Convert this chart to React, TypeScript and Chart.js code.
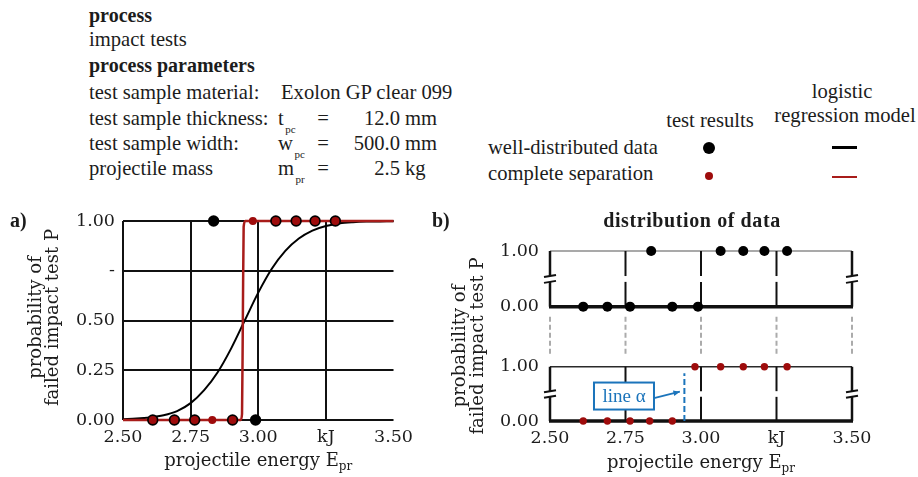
import React, { useEffect, useRef } from "react";
import { Chart, registerables } from "chart.js";

Chart.register(...registerables);

// ---------- data ----------
const X_TICKS = [2.5, 2.75, 3.0, 3.25, 3.5];
const X_TICK_LABELS = ["2.50", "2.75", "3.00", "kJ", "3.50"];
const Y_TICKS_A = [0, 0.25, 0.5, 0.75, 1];
const Y_TICK_LABELS_A = ["0.00", "0.25", "0.50", "-", "1.00"];
const Y_TICKS_B = [0, 1];
const Y_TICK_LABELS_B = ["0.00", "1.00"];

// test results
const WELL_E = [2.61, 2.69, 2.765, 2.835, 2.905, 2.99, 3.065, 3.14, 3.21, 3.285];
const WELL_P = [0, 0, 0, 1, 0, 0, 1, 1, 1, 1];
const SEP_E = [2.61, 2.69, 2.765, 2.83, 2.905, 2.98, 3.065, 3.14, 3.21, 3.285];
const SEP_P = [0, 0, 0, 0, 0, 1, 1, 1, 1, 1];

// logistic regression models
const WELL_MODEL_E = [2.5, 2.55, 2.6, 2.65, 2.7, 2.75, 2.8, 2.85, 2.9, 2.95, 3.0, 3.05, 3.1, 3.15, 3.2, 3.25, 3.3, 3.35, 3.4, 3.45, 3.5];
const WELL_MODEL_P = [0.004, 0.007, 0.013, 0.024, 0.045, 0.085, 0.15, 0.24, 0.36, 0.5, 0.64, 0.76, 0.85, 0.912, 0.952, 0.975, 0.988, 0.994, 0.997, 0.998, 0.999];
const SEP_MODEL_E = [2.5, 2.935, 2.94, 2.943, 2.946, 2.952, 3.5];
const SEP_MODEL_P = [0, 0, 0.03, 0.5, 0.97, 1, 1];

const LINE_ALPHA_E = [2.945, 2.945];
const LINE_ALPHA_P = [0, 0.88];

// header texts
const PARAM_LABELS = ["test sample thickness:", "test sample width:", "projectile mass"];
const PARAM_SYMBOLS = ["t", "w", "m"];
const PARAM_SUBS = ["pc", "pc", "pr"];
const PARAM_VALUES = ["12.0", "500.0", "2.5"];
const PARAM_UNITS = ["mm", "mm", "kg"];

// ---------- styles ----------
const RED = "#9e0c0c";
const RED_LINE = "#a81c1a";
const BLUE = "#1b74bb";
const INK = "#1c1c1c";
const CHART_FONT = '"DejaVu Serif", serif';
const TEXT_FONT = '"Liberation Serif", "Times New Roman", serif';

const toXY = (xs: number[], ys: number[]) => xs.map((x, i) => ({ x, y: ys[i] }));

function line(ctx: CanvasRenderingContext2D, x1: number, y1: number, x2: number, y2: number) {
  ctx.beginPath();
  ctx.moveTo(x1, y1);
  ctx.lineTo(x2, y2);
  ctx.stroke();
}

function drawXTitle(ctx: CanvasRenderingContext2D, cx: number, baseline: number) {
  ctx.save();
  ctx.fillStyle = INK;
  ctx.textBaseline = "alphabetic";
  ctx.textAlign = "left";
  const main = "projectile energy E";
  const sub = "pr";
  ctx.font = `18px ${CHART_FONT}`;
  const wm = ctx.measureText(main).width;
  ctx.font = `12px ${CHART_FONT}`;
  const ws = ctx.measureText(sub).width;
  const start = cx - (wm + ws) / 2;
  ctx.font = `18px ${CHART_FONT}`;
  ctx.fillText(main, start, baseline);
  ctx.font = `12px ${CHART_FONT}`;
  ctx.fillText(sub, start + wm, baseline + 4);
  ctx.restore();
}

function drawYTitle(ctx: CanvasRenderingContext2D, xs: number[], cy: number) {
  const lines = ["probability of", "failed impact test P"];
  ctx.save();
  ctx.fillStyle = INK;
  ctx.font = `18px ${CHART_FONT}`;
  ctx.textAlign = "center";
  ctx.textBaseline = "middle";
  lines.forEach((t, i) => {
    ctx.save();
    ctx.translate(xs[i], cy);
    ctx.rotate(-Math.PI / 2);
    ctx.fillText(t, 0, 0);
    ctx.restore();
  });
  ctx.restore();
}

const tickFont = { family: CHART_FONT, size: 17.5 };

function xScaleOptions(height: number, grid: any) {
  return {
    type: "linear",
    min: 2.5,
    max: 3.5,
    afterBuildTicks: (s: any) => {
      s.ticks = X_TICKS.map((v) => ({ value: v }));
    },
    afterFit: (s: any) => {
      s.height = height;
    },
    ticks: {
      autoSkip: false,
      maxRotation: 0,
      padding: 7,
      color: INK,
      font: tickFont,
      callback: (v: number) => X_TICK_LABELS[X_TICKS.indexOf(v)] ?? "",
    },
    grid,
    border: { display: false },
  };
}

// ---------- chart a ----------
function ChartA() {
  const ref = useRef<HTMLCanvasElement>(null);
  useEffect(() => {
    const titles = {
      id: "titlesA",
      afterDraw(chart: any) {
        const a = chart.chartArea;
        drawXTitle(chart.ctx, (a.left + a.right) / 2, a.bottom + 46);
        drawYTitle(chart.ctx, [a.left - 87, a.left - 70], (a.top + a.bottom) / 2 - 3);
      },
    };
    const chart = new Chart(ref.current!, {
      type: "scatter",
      data: {
        datasets: [
          { label: "complete separation", data: toXY(SEP_E, SEP_P), backgroundColor: RED, borderWidth: 0, pointRadius: 4, order: 0, clip: false } as any,
          { label: "well-distributed data", data: toXY(WELL_E, WELL_P), backgroundColor: "#000", borderWidth: 0, pointRadius: 5.7, order: 1, clip: false },
          { label: "model complete separation", data: toXY(SEP_MODEL_E, SEP_MODEL_P), showLine: true, borderColor: RED_LINE, borderWidth: 2.5, pointRadius: 0, cubicInterpolationMode: "monotone", order: 2, clip: false },
          { label: "model well-distributed", data: toXY(WELL_MODEL_E, WELL_MODEL_P), showLine: true, borderColor: "#000", borderWidth: 2, pointRadius: 0, cubicInterpolationMode: "monotone", order: 3, clip: false },
        ],
      },
      options: {
        animation: false,
        responsive: false,
        devicePixelRatio: 1,
        layout: { padding: { top: 31, right: 23, left: 0, bottom: 0 } },
        plugins: { legend: { display: false }, tooltip: { enabled: false } },
        scales: {
          x: xScaleOptions(57, {
            color: (c: any) => (c.tick && c.tick.value === 3.5 ? "rgba(0,0,0,0)" : "#111"),
            lineWidth: 2,
            drawTicks: false,
          }),
          y: {
            type: "linear",
            min: 0,
            max: 1,
            afterBuildTicks: (s: any) => {
              s.ticks = Y_TICKS_A.map((v) => ({ value: v }));
            },
            afterFit: (s: any) => {
              s.width = 123;
            },
            ticks: {
              padding: 8,
              color: INK,
              font: tickFont,
              callback: (v: number) => Y_TICK_LABELS_A[Y_TICKS_A.indexOf(v)] ?? "",
            },
            grid: { color: "#111", lineWidth: 2, drawTicks: false },
            border: { display: false },
          },
        } as any,
      },
      plugins: [titles],
    } as any);
    return () => chart.destroy();
  }, []);
  return <canvas ref={ref} width={420} height={287} style={{ position: "absolute", left: 0, top: 190, display: "block" }} />;
}

// ---------- chart b ----------
function ChartB() {
  const ref = useRef<HTMLCanvasElement>(null);
  useEffect(() => {
    const frames = {
      id: "framesB",
      beforeDatasetsDraw(chart: any) {
        const ctx = chart.ctx as CanvasRenderingContext2D;
        const xs = chart.scales.x;
        const xp = X_TICKS.map((v) => xs.getPixelForValue(v));
        const panels = [chart.scales.yTop, chart.scales.yBot];
        ctx.save();
        ctx.lineCap = "butt";
        panels.forEach((sc: any, pi: number) => {
          const yT = sc.getPixelForValue(1);
          const yB = sc.getPixelForValue(0);
          const h = yB - yT;
          const g1 = yT + h * 0.45;
          const g2 = yT + h * 0.555;
          ctx.strokeStyle = pi === 0 ? "#8c8c8c" : "#2a2a2a";
          ctx.lineWidth = 1.5;
          line(ctx, xp[0], yT, xp[xp.length - 1], yT);
          xp.forEach((x, i) => {
            const edge = i === 0 || i === xp.length - 1;
            ctx.strokeStyle = "#111";
            ctx.lineWidth = edge ? 2.5 : 2;
            line(ctx, x, yT, x, g1);
            line(ctx, x, g2, x, yB);
            if (edge) {
              ctx.lineWidth = 2;
              line(ctx, x - 6, g1 + 1, x + 6, g1 - 1);
              line(ctx, x - 6, g2 + 1, x + 6, g2 - 1);
            }
          });
          ctx.strokeStyle = "#111";
          ctx.lineWidth = 3.5;
          line(ctx, xp[0] - 1, yB, xp[xp.length - 1] + 1, yB);
        });
        const yA = chart.scales.yTop.getPixelForValue(0) + 10;
        const yZ = chart.scales.yBot.getPixelForValue(1) - 10;
        ctx.setLineDash([5, 3]);
        ctx.strokeStyle = "#ababab";
        ctx.lineWidth = 2;
        xp.forEach((x) => line(ctx, x, yA, x, yZ));
        ctx.restore();
      },
      afterDatasetsDraw(chart: any) {
        const ctx = chart.ctx as CanvasRenderingContext2D;
        const xs = chart.scales.x;
        const yb = chart.scales.yBot;
        const cx = xs.getPixelForValue(2.745);
        const cy = yb.getPixelForValue(0.46);
        const w = 60;
        const h = 27;
        ctx.save();
        ctx.fillStyle = "#fff";
        ctx.fillRect(cx - w / 2, cy - h / 2, w, h);
        ctx.strokeStyle = BLUE;
        ctx.lineWidth = 2;
        ctx.strokeRect(cx - w / 2, cy - h / 2, w, h);
        ctx.fillStyle = BLUE;
        ctx.font = `19px ${TEXT_FONT}`;
        ctx.textAlign = "center";
        ctx.textBaseline = "middle";
        ctx.fillText("line α", cx, cy + 1);
        // arrow
        const x1 = cx + w / 2, y1 = cy + 2;
        const x2 = xs.getPixelForValue(2.93), y2 = yb.getPixelForValue(0.54);
        ctx.lineWidth = 1.8;
        line(ctx, x1, y1, x2, y2);
        const ang = Math.atan2(y2 - y1, x2 - x1);
        ctx.beginPath();
        ctx.moveTo(x2, y2);
        ctx.lineTo(x2 - 7 * Math.cos(ang - 0.4), y2 - 7 * Math.sin(ang - 0.4));
        ctx.lineTo(x2 - 7 * Math.cos(ang + 0.4), y2 - 7 * Math.sin(ang + 0.4));
        ctx.closePath();
        ctx.fill();
        ctx.restore();
      },
      afterDraw(chart: any) {
        const a = chart.chartArea;
        drawXTitle(chart.ctx, (a.left + a.right) / 2, a.bottom + 47);
        drawYTitle(chart.ctx, [a.left - 90, a.left - 72], (a.top + a.bottom) / 2 + 10);
      },
    };
    const yPanel = (weight: number) => ({
      type: "linear",
      position: "left",
      stack: "panels",
      stackWeight: weight,
      min: 0,
      max: 1,
      afterBuildTicks: (s: any) => {
        s.ticks = Y_TICKS_B.map((v) => ({ value: v }));
      },
      afterFit: (s: any) => {
        s.width = 130;
      },
      ticks: {
        padding: 11,
        color: INK,
        font: tickFont,
        callback: (v: number) => Y_TICK_LABELS_B[Y_TICKS_B.indexOf(v)] ?? "",
      },
      grid: { display: false, drawTicks: false },
      border: { display: false },
    });
    const chart = new Chart(ref.current!, {
      type: "scatter",
      data: {
        datasets: [
          { label: "well-distributed data", data: toXY(WELL_E, WELL_P), yAxisID: "yTop", backgroundColor: "#000", borderWidth: 0, pointRadius: 5, clip: false },
          { label: "complete separation", data: toXY(SEP_E, SEP_P), yAxisID: "yBot", backgroundColor: RED, borderWidth: 0, pointRadius: 3.7, clip: false },
          { label: "line α", data: toXY(LINE_ALPHA_E, LINE_ALPHA_P), yAxisID: "yBot", showLine: true, borderColor: BLUE, borderWidth: 2, borderDash: [6, 3], pointRadius: 0, clip: false },
        ],
      },
      options: {
        animation: false,
        responsive: false,
        devicePixelRatio: 1,
        layout: { padding: { top: 61, right: 66, left: 0, bottom: 0 } },
        plugins: { legend: { display: false }, tooltip: { enabled: false } },
        scales: {
          x: xScaleOptions(56, { display: false, drawTicks: false }),
          yBot: yPanel(0.975),
          yGap: {
            type: "linear",
            position: "left",
            stack: "panels",
            stackWeight: 1.08,
            min: 0,
            max: 1,
            afterFit: (s: any) => {
              s.width = 130;
            },
            ticks: { display: false },
            grid: { display: false, drawTicks: false },
            border: { display: false },
          },
          yTop: yPanel(1),
        } as any,
      },
      plugins: [frames],
    } as any);
    return () => chart.destroy();
  }, []);
  return <canvas ref={ref} width={498} height={287} style={{ position: "absolute", left: 420, top: 190, display: "block" }} />;
}

// ---------- text helper ----------
function T(props: { x: number; y: number; size?: number; bold?: boolean; anchor?: "start" | "middle" | "end"; spacing?: number; color?: string; children: React.ReactNode }) {
  const { x, y, size = 20.6, bold = false, anchor = "start", spacing = 0, color = INK, children } = props;
  const style: React.CSSProperties = {
    position: "absolute",
    top: y - 0.8375 * size,
    fontSize: size,
    lineHeight: `${size}px`,
    fontWeight: bold ? 700 : 400,
    fontFamily: TEXT_FONT,
    whiteSpace: "nowrap",
    color,
    letterSpacing: spacing,
  };
  if (anchor === "start") style.left = x;
  else if (anchor === "end") style.right = 918 - x;
  else {
    style.left = x;
    style.transform = "translateX(-50%)";
  }
  return <div style={style}>{children}</div>;
}

const subStyle: React.CSSProperties = { fontSize: 11, position: "relative", top: 8, marginLeft: 1.5 };

export default function App() {
  const rowBase = [125, 150, 175];
  return (
    <div style={{ position: "fixed", left: 0, top: 0, width: 918, height: 477, background: "#fff", overflow: "hidden" }}>
      <T x={89} y={22} bold size={20}>process</T>
      <T x={89} y={46}>impact tests</T>
      <T x={89} y={72} bold size={20}>process parameters</T>
      <T x={89} y={99}>test sample material:</T>
      <T x={281} y={99}>Exolon GP clear 099</T>
      {PARAM_LABELS.map((lab, i) => (
        <React.Fragment key={lab}>
          <T x={89} y={rowBase[i]}>{lab}</T>
          <T x={278} y={rowBase[i]}>
            {PARAM_SYMBOLS[i]}
            <span style={subStyle}>{PARAM_SUBS[i]}</span>
          </T>
          <T x={323} y={rowBase[i]} anchor="middle">=</T>
          <T x={400} y={rowBase[i]} anchor="end">{PARAM_VALUES[i]}</T>
          <T x={405} y={rowBase[i]}>{PARAM_UNITS[i]}</T>
        </React.Fragment>
      ))}

      {/* legend */}
      <T x={842} y={98} anchor="middle">logistic</T>
      <T x={845} y={122} anchor="middle">regression model</T>
      <T x={710} y={127} anchor="middle">test results</T>
      <T x={488} y={154}>well-distributed data</T>
      <T x={488} y={180}>complete separation</T>
      <div style={{ position: "absolute", left: 709 - 6, top: 148 - 6, width: 12, height: 12, borderRadius: "50%", background: "#000" }} />
      <div style={{ position: "absolute", left: 709 - 4, top: 176 - 4, width: 8, height: 8, borderRadius: "50%", background: RED }} />
      <div style={{ position: "absolute", left: 832, top: 146, width: 25, height: 2.5, background: "#000" }} />
      <div style={{ position: "absolute", left: 832, top: 175.5, width: 25, height: 2.5, background: RED_LINE }} />

      <ChartA />
      <ChartB />

      <T x={10} y={227} bold size={20}>a)</T>
      <T x={432} y={227} bold size={20}>b)</T>
      <T x={692} y={227} bold size={20} anchor="middle" spacing={0.6}>distribution of data</T>
    </div>
  );
}
